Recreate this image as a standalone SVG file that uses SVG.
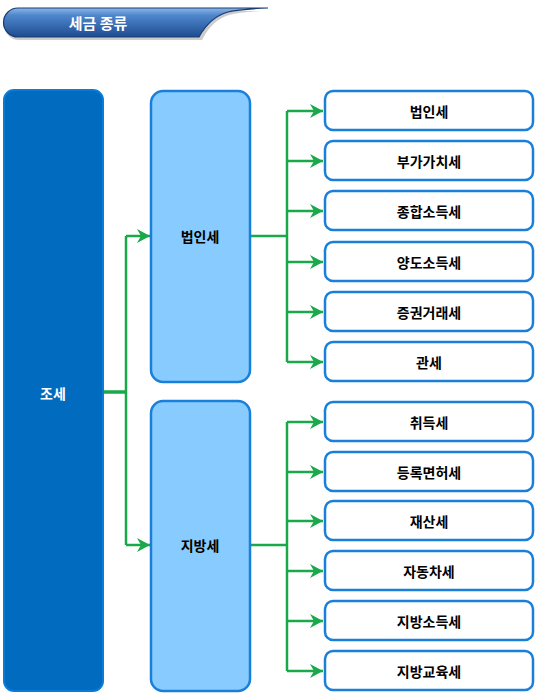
<svg xmlns="http://www.w3.org/2000/svg" width="535" height="693" viewBox="0 0 535 693">
<style>
.t{font-family:"Noto Sans CJK KR","Liberation Sans",sans-serif;font-weight:bold;font-size:14px;fill:#000;text-anchor:middle;dominant-baseline:central}
.mid{fill:#88CCFF;stroke:#1A7FD8;stroke-width:2.5}
.leaf{fill:#fff;stroke:#1A7FD8;stroke-width:2.5}
.c{fill:none;stroke:#19A84A;stroke-width:2.5}
</style>
<defs>
<linearGradient id="hg" x1="0" y1="0" x2="0" y2="1">
<stop offset="0" stop-color="#8DB6E8"/>
<stop offset="0.25" stop-color="#4F86CC"/>
<stop offset="1" stop-color="#1D4C90"/>
</linearGradient>
<marker id="ah" markerUnits="userSpaceOnUse" markerWidth="16" markerHeight="16" refX="14" refY="8" orient="auto">
<path d="M1,1 L14,8 L1,15 L5,8 Z" fill="#19A84A"/>
</marker>
</defs>
<g id="header">
<path d="M19 11 H262 Q240 12 229 15 Q212 20 202 40 H19 A14.5 14.5 0 0 1 19 11 Z" fill="#9a9a9a" opacity="0.5"/>
<path d="M18 8 H268 Q240 9 228 12 Q210 17 199 37 H18 A14.5 14.5 0 0 1 18 8 Z" fill="url(#hg)" stroke="#1A3C70" stroke-width="1.2"/>
<text x="98" y="22" class="t" style="fill:#fff;font-size:15px">세금 종류</text>
</g>
<g id="connectors">
<path d="M103 392 H126" class="c" style="stroke-width:3.5"/>
<path d="M126 236 V545" class="c"/>
<path d="M126 236 H150" class="c" marker-end="url(#ah)"/>
<path d="M126 545 H150" class="c" marker-end="url(#ah)"/>
<path d="M250 236 H287" class="c"/>
<path d="M287 111 V362" class="c"/>
<path d="M287 111 H323" class="c" marker-end="url(#ah)"/>
<path d="M287 161 H323" class="c" marker-end="url(#ah)"/>
<path d="M287 211 H323" class="c" marker-end="url(#ah)"/>
<path d="M287 262 H323" class="c" marker-end="url(#ah)"/>
<path d="M287 312 H323" class="c" marker-end="url(#ah)"/>
<path d="M287 362 H323" class="c" marker-end="url(#ah)"/>
<path d="M250 545 H287" class="c"/>
<path d="M287 422 V671" class="c"/>
<path d="M287 422 H323" class="c" marker-end="url(#ah)"/>
<path d="M287 472 H323" class="c" marker-end="url(#ah)"/>
<path d="M287 521 H323" class="c" marker-end="url(#ah)"/>
<path d="M287 571 H323" class="c" marker-end="url(#ah)"/>
<path d="M287 621 H323" class="c" marker-end="url(#ah)"/>
<path d="M287 671 H323" class="c" marker-end="url(#ah)"/>
</g>
<g id="n-root"><rect x="4" y="90" width="99" height="601" rx="10" fill="#006BBF" stroke="#0A7BD8" stroke-width="2"/><text x="53" y="393" class="t" style="fill:#fff">조세</text></g>
<g id="n-national"><rect x="151" y="91" width="99" height="291" rx="12" class="mid"/><text x="200" y="236" class="t">법인세</text></g>
<g id="n-local"><rect x="151" y="401" width="99" height="290" rx="12" class="mid"/><text x="200" y="545" class="t">지방세</text></g>
<g id="n1"><rect x="325" y="91" width="208" height="39" rx="8" class="leaf"/><text x="429" y="111" class="t">법인세</text></g>
<g id="n2"><rect x="325" y="141" width="208" height="39" rx="8" class="leaf"/><text x="429" y="161" class="t">부가가치세</text></g>
<g id="n3"><rect x="325" y="191" width="208" height="39" rx="8" class="leaf"/><text x="429" y="211" class="t">종합소득세</text></g>
<g id="n4"><rect x="325" y="242" width="208" height="39" rx="8" class="leaf"/><text x="429" y="262" class="t">양도소득세</text></g>
<g id="n5"><rect x="325" y="292" width="208" height="39" rx="8" class="leaf"/><text x="429" y="312" class="t">증권거래세</text></g>
<g id="n6"><rect x="325" y="342" width="208" height="39" rx="8" class="leaf"/><text x="429" y="362" class="t">관세</text></g>
<g id="n7"><rect x="325" y="402" width="208" height="39" rx="8" class="leaf"/><text x="429" y="422" class="t">취득세</text></g>
<g id="n8"><rect x="325" y="452" width="208" height="39" rx="8" class="leaf"/><text x="429" y="472" class="t">등록면허세</text></g>
<g id="n9"><rect x="325" y="501" width="208" height="39" rx="8" class="leaf"/><text x="429" y="521" class="t">재산세</text></g>
<g id="n10"><rect x="325" y="551" width="208" height="39" rx="8" class="leaf"/><text x="429" y="571" class="t">자동차세</text></g>
<g id="n11"><rect x="325" y="601" width="208" height="39" rx="8" class="leaf"/><text x="429" y="621" class="t">지방소득세</text></g>
<g id="n12"><rect x="325" y="651" width="208" height="39" rx="8" class="leaf"/><text x="429" y="671" class="t">지방교육세</text></g>
</svg>
